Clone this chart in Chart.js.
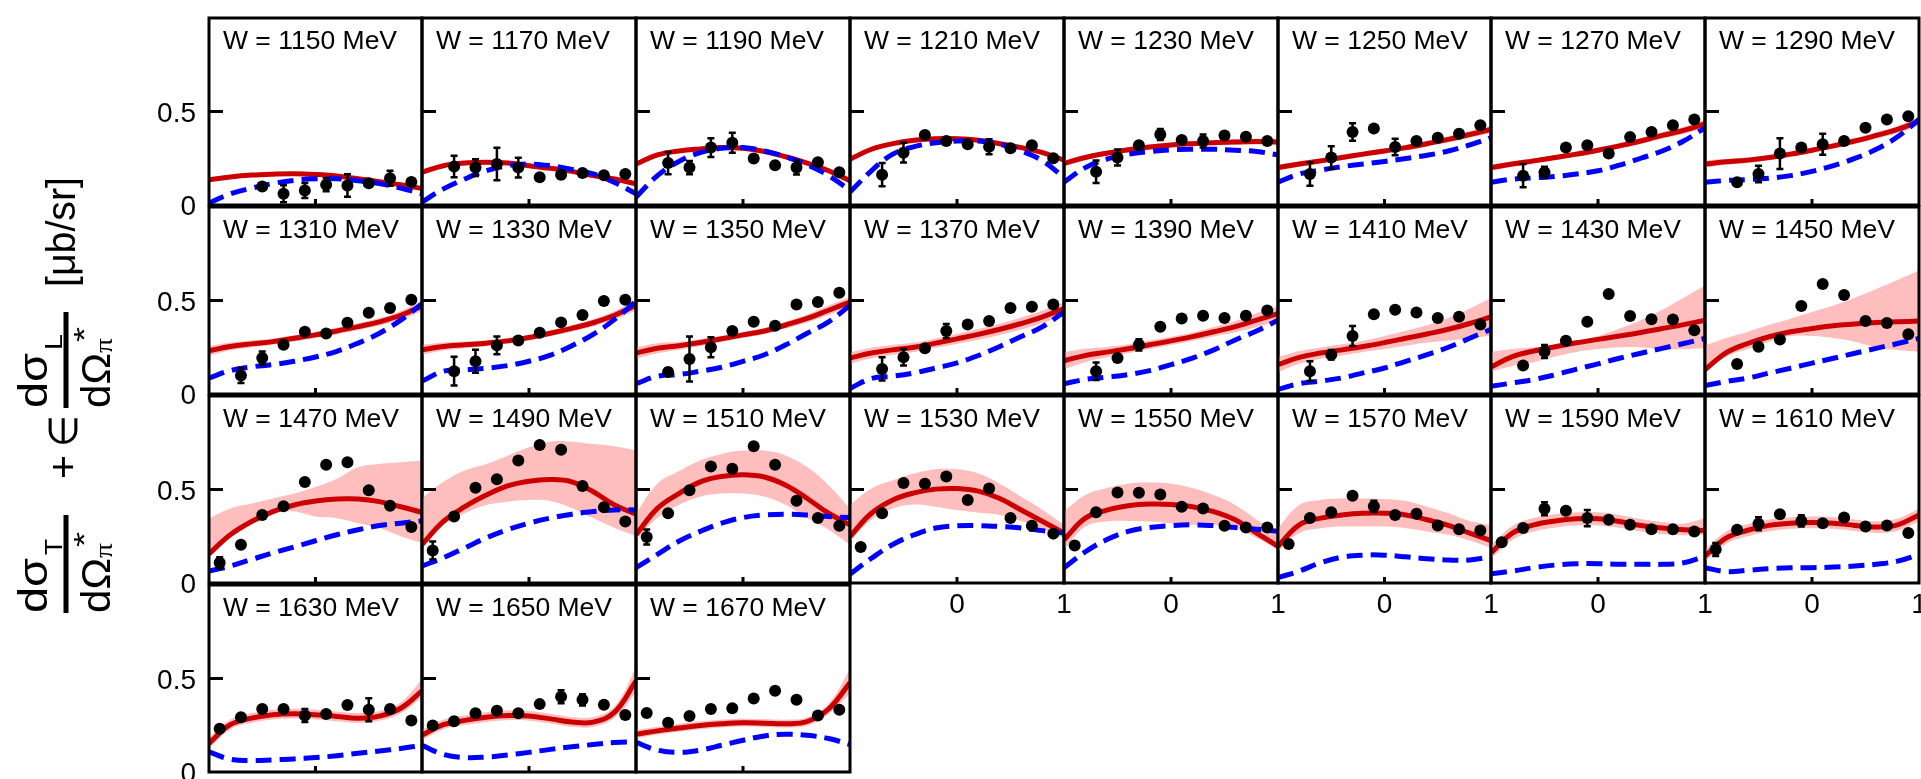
<!DOCTYPE html>
<html>
<head>
<meta charset="utf-8">
<title>Pion electroproduction cross sections</title>
<script src="https://cdn.jsdelivr.net/npm/chart.js@4.4.1/dist/chart.umd.min.js"></script>
<style>
    html, body { margin: 0; padding: 0; overflow: hidden; background: #fff; }
    body { position: relative; width: 1921px; height: 779px; }
    canvas { position: absolute; }
</style>
</head>
<body>
<script>
// one panel per W bin, filled row by row, 8 per row
const energies = [1150, 1170, 1190, 1210, 1230, 1250, 1270, 1290,
                  1310, 1330, 1350, 1370, 1390, 1410, 1430, 1450,
                  1470, 1490, 1510, 1530, 1550, 1570, 1590, 1610,
                  1630, 1650, 1670];

// cos(theta*) of the measured points and of the model curves
const cosTheta = [-0.9, -0.7, -0.5, -0.3, -0.1, 0.1, 0.3, 0.5, 0.7, 0.9];
const curveCos = [-1, -0.8, -0.6, -0.4, -0.2, 0, 0.2, 0.4, 0.6, 0.8, 1];

const xTicks = [0, 1];
const yTicks = [0, 0.5];

// measured cross sections [μb/sr], null = no point
const measured = [
    [null, null, 0.099, 0.06, 0.078, 0.108, 0.104, 0.116, 0.143, 0.123],
    [null, 0.206, 0.20, 0.219, 0.20, 0.148, 0.162, 0.171, 0.159, 0.166],
    [null, 0.224, 0.20, 0.307, 0.333, 0.249, 0.213, 0.20, 0.228, 0.175],
    [null, 0.162, 0.28, 0.374, 0.342, 0.325, 0.312, 0.303, 0.319, 0.25],
    [null, 0.178, 0.254, 0.319, 0.377, 0.347, 0.342, 0.372, 0.365, 0.342],
    [null, 0.166, 0.254, 0.39, 0.409, 0.31, 0.342, 0.36, 0.381, 0.427],
    [null, 0.157, 0.175, 0.307, 0.319, 0.275, 0.363, 0.39, 0.427, 0.457],
    [null, 0.122, 0.166, 0.275, 0.307, 0.325, 0.342, 0.413, 0.457, 0.474],
    [null, 0.099, 0.192, 0.263, 0.333, 0.324, 0.381, 0.434, 0.46, 0.504],
    [null, 0.122, 0.175, 0.26, 0.286, 0.328, 0.383, 0.422, 0.497, 0.504],
    [null, 0.118, 0.187, 0.25, 0.337, 0.386, 0.365, 0.478, 0.492, 0.541],
    [null, 0.134, 0.196, 0.245, 0.337, 0.372, 0.39, 0.46, 0.466, 0.478],
    [null, 0.122, 0.192, 0.263, 0.36, 0.404, 0.418, 0.407, 0.418, 0.446],
    [null, 0.122, 0.21, 0.31, 0.427, 0.451, 0.436, 0.407, 0.413, 0.372],
    [null, 0.153, 0.227, 0.285, 0.386, 0.535, 0.417, 0.40, 0.398, 0.341],
    [null, 0.161, 0.253, 0.292, 0.47, 0.588, 0.53, 0.39, 0.38, 0.32],
    [0.108, 0.205, 0.364, 0.411, 0.54, 0.632, 0.646, 0.496, 0.413, 0.30],
    [0.174, 0.355, 0.509, 0.555, 0.655, 0.738, 0.713, 0.519, 0.405, 0.329],
    [0.246, 0.373, 0.496, 0.623, 0.611, 0.731, 0.632, 0.44, 0.347, 0.306],
    [0.193, 0.373, 0.535, 0.531, 0.57, 0.444, 0.505, 0.347, 0.306, 0.264],
    [0.20, 0.378, 0.484, 0.482, 0.473, 0.408, 0.399, 0.306, 0.297, 0.297],
    [0.209, 0.347, 0.378, 0.467, 0.41, 0.364, 0.37, 0.308, 0.288, 0.281],
    [0.218, 0.294, 0.397, 0.386, 0.347, 0.338, 0.311, 0.288, 0.288, 0.276],
    [0.179, 0.285, 0.317, 0.368, 0.332, 0.32, 0.35, 0.302, 0.308, 0.267],
    [0.231, 0.293, 0.337, 0.337, 0.302, 0.31, 0.358, 0.333, 0.337, 0.275],
    [0.249, 0.272, 0.314, 0.328, 0.314, 0.363, 0.402, 0.386, 0.36, 0.305],
    [0.316, 0.263, 0.299, 0.337, 0.341, 0.393, 0.434, 0.386, 0.302, 0.333],
];

const measuredErr = [
    [null, null, 0.015, 0.045, 0.04, 0.035, 0.06, 0.012, 0.04, 0.012],
    [null, 0.057, 0.045, 0.087, 0.053, 0.015, 0.02, 0.012, 0.012, 0.012],
    [null, 0.06, 0.035, 0.05, 0.053, 0.015, 0.012, 0.037, 0.012, 0.012],
    [null, 0.062, 0.053, 0.015, 0.012, 0.012, 0.04, 0.012, 0.012, 0.012],
    [null, 0.06, 0.043, 0.015, 0.03, 0.012, 0.035, 0.012, 0.012, 0.012],
    [null, 0.063, 0.06, 0.047, 0.012, 0.044, 0.012, 0.012, 0.012, 0.012],
    [null, 0.062, 0.03, 0.012, 0.012, 0.012, 0.012, 0.012, 0.012, 0.012],
    [null, 0.012, 0.044, 0.082, 0.012, 0.056, 0.012, 0.012, 0.012, 0.012],
    [null, 0.04, 0.035, 0.012, 0.012, 0.012, 0.012, 0.012, 0.012, 0.012],
    [null, 0.077, 0.062, 0.047, 0.012, 0.012, 0.012, 0.012, 0.012, 0.012],
    [null, 0.02, 0.12, 0.053, 0.012, 0.012, 0.012, 0.012, 0.012, 0.012],
    [null, 0.062, 0.044, 0.015, 0.037, 0.012, 0.012, 0.012, 0.012, 0.012],
    [null, 0.047, 0.012, 0.03, 0.012, 0.012, 0.012, 0.012, 0.012, 0.012],
    [null, 0.053, 0.025, 0.053, 0.012, 0.012, 0.012, 0.012, 0.012, 0.012],
    [null, 0.012, 0.035, 0.012, 0.012, 0.012, 0.012, 0.012, 0.012, 0.012],
    [null, 0.012, 0.012, 0.012, 0.012, 0.012, 0.012, 0.012, 0.012, 0.012],
    [0.03, 0.012, 0.012, 0.012, 0.012, 0.012, 0.012, 0.012, 0.012, 0.012],
    [0.048, 0.012, 0.012, 0.012, 0.012, 0.012, 0.012, 0.012, 0.012, 0.012],
    [0.04, 0.012, 0.012, 0.012, 0.012, 0.012, 0.012, 0.012, 0.012, 0.012],
    [0.012, 0.012, 0.012, 0.012, 0.012, 0.012, 0.012, 0.012, 0.012, 0.012],
    [0.012, 0.012, 0.012, 0.012, 0.012, 0.012, 0.012, 0.012, 0.012, 0.012],
    [0.012, 0.012, 0.012, 0.012, 0.03, 0.012, 0.012, 0.012, 0.012, 0.012],
    [0.012, 0.012, 0.035, 0.012, 0.044, 0.012, 0.012, 0.012, 0.012, 0.012],
    [0.035, 0.012, 0.035, 0.012, 0.03, 0.012, 0.012, 0.012, 0.012, 0.012],
    [0.012, 0.012, 0.012, 0.012, 0.035, 0.012, 0.012, 0.062, 0.012, 0.012],
    [0.012, 0.012, 0.012, 0.012, 0.012, 0.012, 0.035, 0.03, 0.012, 0.012],
    [0.012, 0.012, 0.012, 0.012, 0.012, 0.012, 0.012, 0.012, 0.012, 0.012],
];

// full model (solid red) with its uncertainty band
const fitCurve = [
    [0.135, 0.15, 0.16, 0.165, 0.167, 0.163, 0.155, 0.14, 0.125, 0.108, 0.088],
    [0.175, 0.21, 0.224, 0.228, 0.224, 0.21, 0.196, 0.18, 0.157, 0.139, 0.113],
    [0.219, 0.268, 0.289, 0.30, 0.307, 0.303, 0.286, 0.258, 0.224, 0.183, 0.13],
    [0.245, 0.298, 0.328, 0.346, 0.354, 0.354, 0.346, 0.328, 0.307, 0.28, 0.24],
    [0.222, 0.254, 0.277, 0.295, 0.31, 0.321, 0.328, 0.333, 0.337, 0.339, 0.337],
    [0.201, 0.219, 0.236, 0.254, 0.272, 0.289, 0.307, 0.328, 0.351, 0.377, 0.404],
    [0.20, 0.219, 0.236, 0.254, 0.272, 0.293, 0.316, 0.342, 0.372, 0.399, 0.434],
    [0.219, 0.231, 0.24, 0.254, 0.272, 0.293, 0.316, 0.342, 0.372, 0.404, 0.448],
    [0.231, 0.254, 0.268, 0.28, 0.298, 0.316, 0.337, 0.36, 0.386, 0.421, 0.471],
    [0.236, 0.254, 0.263, 0.272, 0.284, 0.302, 0.325, 0.351, 0.381, 0.421, 0.474],
    [0.219, 0.245, 0.258, 0.275, 0.295, 0.316, 0.337, 0.369, 0.404, 0.448, 0.492],
    [0.192, 0.219, 0.236, 0.25, 0.272, 0.295, 0.319, 0.346, 0.377, 0.413, 0.457],
    [0.178, 0.206, 0.224, 0.242, 0.263, 0.284, 0.307, 0.333, 0.36, 0.395, 0.43],
    [0.157, 0.196, 0.219, 0.236, 0.254, 0.275, 0.298, 0.321, 0.346, 0.377, 0.413],
    [0.144, 0.20, 0.23, 0.253, 0.274, 0.292, 0.31, 0.329, 0.35, 0.371, 0.394],
    [0.13, 0.221, 0.27, 0.306, 0.333, 0.35, 0.365, 0.374, 0.382, 0.386, 0.39],
    [0.156, 0.258, 0.329, 0.382, 0.417, 0.438, 0.449, 0.449, 0.435, 0.408, 0.378],
    [0.205, 0.329, 0.408, 0.47, 0.519, 0.544, 0.553, 0.541, 0.488, 0.417, 0.368],
    [0.258, 0.399, 0.478, 0.541, 0.57, 0.579, 0.567, 0.523, 0.452, 0.373, 0.311],
    [0.249, 0.373, 0.444, 0.482, 0.502, 0.505, 0.491, 0.452, 0.39, 0.329, 0.267],
    [0.232, 0.347, 0.39, 0.413, 0.422, 0.42, 0.408, 0.382, 0.338, 0.267, 0.196],
    [0.197, 0.311, 0.347, 0.364, 0.373, 0.373, 0.364, 0.338, 0.308, 0.267, 0.227],
    [0.161, 0.267, 0.311, 0.332, 0.343, 0.343, 0.329, 0.308, 0.294, 0.285, 0.281],
    [0.144, 0.241, 0.282, 0.308, 0.32, 0.323, 0.32, 0.308, 0.299, 0.311, 0.364],
    [0.153, 0.253, 0.288, 0.306, 0.311, 0.306, 0.297, 0.288, 0.299, 0.341, 0.434],
    [0.197, 0.253, 0.276, 0.293, 0.302, 0.299, 0.284, 0.267, 0.267, 0.32, 0.487],
    [0.202, 0.22, 0.235, 0.249, 0.258, 0.263, 0.261, 0.258, 0.27, 0.337, 0.478],
];

const fitLow = [
    [0.125, 0.14, 0.15, 0.155, 0.157, 0.153, 0.145, 0.13, 0.115, 0.098, 0.078],
    [0.163, 0.198, 0.212, 0.216, 0.212, 0.198, 0.184, 0.168, 0.145, 0.127, 0.10],
    [0.205, 0.255, 0.277, 0.288, 0.295, 0.291, 0.274, 0.246, 0.212, 0.17, 0.115],
    [0.232, 0.286, 0.316, 0.334, 0.342, 0.342, 0.334, 0.316, 0.295, 0.267, 0.225],
    [0.205, 0.24, 0.264, 0.282, 0.297, 0.308, 0.315, 0.32, 0.323, 0.324, 0.32],
    [0.185, 0.205, 0.222, 0.24, 0.258, 0.275, 0.293, 0.313, 0.335, 0.36, 0.385],
    [0.183, 0.204, 0.222, 0.24, 0.258, 0.279, 0.301, 0.326, 0.355, 0.381, 0.412],
    [0.20, 0.215, 0.225, 0.24, 0.258, 0.279, 0.301, 0.326, 0.355, 0.385, 0.425],
    [0.205, 0.232, 0.25, 0.263, 0.282, 0.30, 0.32, 0.342, 0.366, 0.398, 0.443],
    [0.21, 0.233, 0.245, 0.256, 0.269, 0.287, 0.309, 0.334, 0.362, 0.398, 0.446],
    [0.188, 0.218, 0.237, 0.257, 0.279, 0.30, 0.321, 0.351, 0.383, 0.423, 0.465],
    [0.162, 0.191, 0.21, 0.225, 0.247, 0.268, 0.29, 0.316, 0.345, 0.38, 0.424],
    [0.133, 0.17, 0.196, 0.218, 0.24, 0.262, 0.285, 0.308, 0.33, 0.358, 0.39],
    [0.117, 0.162, 0.189, 0.206, 0.224, 0.24, 0.258, 0.275, 0.286, 0.297, 0.313],
    [0.12, 0.15, 0.17, 0.20, 0.225, 0.24, 0.25, 0.25, 0.24, 0.24, 0.245],
    [0.12, 0.20, 0.24, 0.28, 0.31, 0.31, 0.30, 0.28, 0.25, 0.235, 0.225],
    [0.152, 0.25, 0.32, 0.373, 0.382, 0.355, 0.346, 0.32, 0.294, 0.25, 0.214],
    [0.19, 0.311, 0.373, 0.417, 0.435, 0.444, 0.438, 0.40, 0.347, 0.294, 0.25],
    [0.232, 0.347, 0.417, 0.461, 0.478, 0.478, 0.461, 0.417, 0.347, 0.285, 0.205],
    [0.223, 0.338, 0.399, 0.42, 0.408, 0.39, 0.376, 0.364, 0.332, 0.288, 0.241],
    [0.179, 0.302, 0.329, 0.332, 0.329, 0.32, 0.311, 0.311, 0.294, 0.241, 0.179],
    [0.17, 0.267, 0.293, 0.302, 0.302, 0.302, 0.293, 0.276, 0.258, 0.227, 0.188],
    [0.13, 0.23, 0.275, 0.297, 0.308, 0.308, 0.295, 0.275, 0.262, 0.255, 0.258],
    [0.115, 0.21, 0.25, 0.277, 0.29, 0.293, 0.29, 0.278, 0.268, 0.28, 0.33],
    [0.125, 0.228, 0.263, 0.281, 0.286, 0.281, 0.272, 0.263, 0.274, 0.313, 0.40],
    [0.17, 0.228, 0.251, 0.268, 0.277, 0.274, 0.259, 0.242, 0.242, 0.29, 0.425],
    [0.18, 0.20, 0.215, 0.229, 0.238, 0.243, 0.241, 0.238, 0.248, 0.31, 0.42],
];

const fitHigh = [
    [0.145, 0.16, 0.17, 0.175, 0.177, 0.173, 0.165, 0.15, 0.135, 0.118, 0.098],
    [0.187, 0.222, 0.236, 0.24, 0.236, 0.222, 0.208, 0.192, 0.169, 0.151, 0.126],
    [0.233, 0.281, 0.301, 0.312, 0.319, 0.315, 0.298, 0.27, 0.236, 0.196, 0.145],
    [0.258, 0.31, 0.34, 0.358, 0.366, 0.366, 0.358, 0.34, 0.319, 0.293, 0.255],
    [0.239, 0.268, 0.29, 0.308, 0.323, 0.334, 0.341, 0.346, 0.351, 0.354, 0.354],
    [0.217, 0.233, 0.25, 0.268, 0.286, 0.303, 0.321, 0.343, 0.367, 0.394, 0.423],
    [0.217, 0.234, 0.25, 0.268, 0.286, 0.307, 0.331, 0.358, 0.389, 0.417, 0.456],
    [0.238, 0.247, 0.255, 0.268, 0.286, 0.307, 0.331, 0.358, 0.389, 0.423, 0.471],
    [0.257, 0.276, 0.286, 0.297, 0.314, 0.332, 0.354, 0.378, 0.406, 0.444, 0.499],
    [0.262, 0.275, 0.281, 0.288, 0.299, 0.317, 0.341, 0.368, 0.40, 0.444, 0.502],
    [0.25, 0.272, 0.279, 0.293, 0.311, 0.332, 0.353, 0.387, 0.425, 0.473, 0.519],
    [0.222, 0.247, 0.262, 0.275, 0.297, 0.322, 0.348, 0.376, 0.409, 0.446, 0.49],
    [0.223, 0.242, 0.252, 0.266, 0.286, 0.306, 0.329, 0.358, 0.39, 0.432, 0.47],
    [0.197, 0.23, 0.249, 0.266, 0.284, 0.31, 0.338, 0.367, 0.406, 0.457, 0.513],
    [0.225, 0.24, 0.25, 0.265, 0.285, 0.31, 0.35, 0.395, 0.45, 0.515, 0.58],
    [0.26, 0.30, 0.333, 0.37, 0.403, 0.438, 0.473, 0.515, 0.562, 0.61, 0.66],
    [0.346, 0.399, 0.425, 0.452, 0.478, 0.513, 0.557, 0.619, 0.637, 0.646, 0.655],
    [0.452, 0.541, 0.602, 0.637, 0.681, 0.726, 0.756, 0.756, 0.743, 0.731, 0.708],
    [0.373, 0.531, 0.597, 0.655, 0.69, 0.708, 0.708, 0.681, 0.62, 0.523, 0.399],
    [0.417, 0.505, 0.549, 0.585, 0.608, 0.608, 0.585, 0.531, 0.461, 0.39, 0.311],
    [0.382, 0.47, 0.508, 0.531, 0.537, 0.531, 0.508, 0.47, 0.417, 0.338, 0.258],
    [0.293, 0.417, 0.444, 0.452, 0.452, 0.449, 0.438, 0.408, 0.373, 0.332, 0.311],
    [0.20, 0.305, 0.348, 0.368, 0.378, 0.378, 0.364, 0.342, 0.326, 0.318, 0.347],
    [0.18, 0.275, 0.315, 0.34, 0.352, 0.355, 0.352, 0.34, 0.33, 0.345, 0.399],
    [0.185, 0.28, 0.315, 0.333, 0.338, 0.333, 0.324, 0.315, 0.326, 0.372, 0.496],
    [0.227, 0.28, 0.303, 0.32, 0.329, 0.326, 0.311, 0.294, 0.294, 0.352, 0.558],
    [0.225, 0.242, 0.257, 0.271, 0.28, 0.285, 0.283, 0.28, 0.293, 0.365, 0.549],
];

// second model (blue dashed)
const dashedCurve = [
    [0.01, 0.06, 0.09, 0.115, 0.132, 0.14, 0.14, 0.13, 0.115, 0.09, 0.06],
    [0.016, 0.086, 0.139, 0.183, 0.21, 0.219, 0.21, 0.19, 0.166, 0.12, 0.06],
    [0.042, 0.157, 0.233, 0.28, 0.303, 0.307, 0.289, 0.258, 0.215, 0.157, 0.078],
    [0.069, 0.183, 0.272, 0.312, 0.333, 0.342, 0.342, 0.325, 0.289, 0.236, 0.148],
    [0.122, 0.20, 0.245, 0.272, 0.286, 0.295, 0.298, 0.298, 0.293, 0.286, 0.268],
    [0.122, 0.166, 0.187, 0.205, 0.219, 0.233, 0.249, 0.266, 0.289, 0.321, 0.36],
    [0.122, 0.138, 0.145, 0.153, 0.166, 0.183, 0.213, 0.25, 0.289, 0.342, 0.413],
    [0.122, 0.131, 0.136, 0.143, 0.157, 0.18, 0.21, 0.249, 0.298, 0.365, 0.457],
    [0.086, 0.125, 0.145, 0.157, 0.175, 0.198, 0.228, 0.272, 0.325, 0.395, 0.483],
    [0.069, 0.122, 0.129, 0.138, 0.152, 0.175, 0.208, 0.258, 0.319, 0.399, 0.496],
    [0.055, 0.095, 0.104, 0.122, 0.143, 0.175, 0.21, 0.263, 0.325, 0.386, 0.474],
    [0.03, 0.083, 0.095, 0.113, 0.139, 0.166, 0.206, 0.254, 0.307, 0.36, 0.439],
    [0.055, 0.078, 0.09, 0.104, 0.125, 0.157, 0.192, 0.236, 0.289, 0.337, 0.395],
    [0.025, 0.055, 0.069, 0.086, 0.113, 0.139, 0.175, 0.21, 0.25, 0.298, 0.346],
    [0.041, 0.059, 0.077, 0.103, 0.133, 0.161, 0.191, 0.218, 0.244, 0.27, 0.297],
    [0.045, 0.067, 0.085, 0.112, 0.138, 0.165, 0.191, 0.218, 0.244, 0.27, 0.297],
    [0.064, 0.091, 0.126, 0.161, 0.193, 0.226, 0.258, 0.285, 0.307, 0.32, 0.332],
    [0.091, 0.135, 0.188, 0.241, 0.285, 0.32, 0.347, 0.368, 0.382, 0.391, 0.391],
    [0.082, 0.153, 0.223, 0.276, 0.32, 0.35, 0.364, 0.368, 0.364, 0.355, 0.35],
    [0.047, 0.132, 0.206, 0.258, 0.294, 0.306, 0.307, 0.302, 0.294, 0.28, 0.267],
    [0.082, 0.167, 0.232, 0.276, 0.297, 0.307, 0.311, 0.307, 0.297, 0.288, 0.276],
    [0.029, 0.064, 0.108, 0.138, 0.149, 0.149, 0.14, 0.13, 0.123, 0.123, 0.14],
    [0.05, 0.064, 0.082, 0.096, 0.103, 0.103, 0.10, 0.10, 0.10, 0.108, 0.144],
    [0.082, 0.061, 0.068, 0.077, 0.082, 0.082, 0.085, 0.091, 0.10, 0.117, 0.153],
    [0.108, 0.068, 0.061, 0.065, 0.07, 0.077, 0.087, 0.10, 0.112, 0.126, 0.143],
    [0.143, 0.094, 0.077, 0.08, 0.091, 0.105, 0.121, 0.135, 0.147, 0.158, 0.161],
    [0.158, 0.117, 0.105, 0.117, 0.143, 0.17, 0.193, 0.202, 0.196, 0.179, 0.147],
];

// panel grid (page pixels)
const COLS = 8;
const colEdges = [209, 422, 636, 850, 1064, 1278, 1491, 1705, 1919];
const rowEdges = [16, 205, 394, 583, 772];
const PAD = { left: 70, right: 12, top: 4, bottom: 45 };

const FONT = '"Liberation Sans", Arial, Helvetica, sans-serif';
const SERIF = '"Liberation Serif", "Times New Roman", serif';

function curve(xs, ys) {
    return xs.map((x, j) => ({ x: x, y: ys[j] }));
}

// y axis title, written bottom to top on its own canvas
function drawAxisTitle() {
    const canvas = document.createElement("canvas");
    canvas.width = 130;
    canvas.height = 480;
    canvas.style.left = "0px";
    canvas.style.top = "150px";
    document.body.appendChild(canvas);
    const ctx = canvas.getContext("2d");
    // u runs up the page from y = 620, v runs to the right from x = 0
    ctx.translate(0, 470);
    ctx.rotate(-Math.PI / 2);
    ctx.fillStyle = "#000";
    ctx.textBaseline = "alphabetic";

    function piece(text, u, v, size, width, family) {
        ctx.save();
        ctx.font = size + "px " + (family || FONT);
        ctx.translate(u, v);
        if (width) ctx.scale(width / ctx.measureText(text).width, 1);
        ctx.fillText(text, 0, 0);
        ctx.restore();
    }
    function fraction(u, sub, len) {
        piece("dσ", u, 47, 40, 55);
        piece(sub, u + 58, 62, 24, 16);
        ctx.fillRect(u, 63.5, len, 5);
        piece("dΩ", u, 110, 40, 55);
        piece("π", u + 55, 112, 26, 15, SERIF);
        piece("*", u + 66, 94, 30, 15);
    }

    fraction(7, "T", 98);
    piece("+", 141, 77, 40, 24);
    piece("∈", 173, 77, 40, 32);
    fraction(212, "L", 96);
    piece("[μb/sr]", 333, 75, 40, 110);
}

// frame, inward ticks, tick labels, error bars and the W label of each panel
const panelDecor = {
    id: "panelDecor",
    afterDatasetsDraw(chart, args, opts) {
        const i = opts.index;
        const xs = chart.scales.x;
        const ys = chart.scales.y;
        const ctx = chart.ctx;
        ctx.save();
        ctx.strokeStyle = "#000";
        ctx.lineWidth = 2.5;
        cosTheta.forEach((c, j) => {
            const v = measured[i][j];
            if (v === null) return;
            const e = measuredErr[i][j];
            const px = xs.getPixelForValue(c);
            const lo = ys.getPixelForValue(v - e);
            const hi = ys.getPixelForValue(v + e);
            ctx.beginPath();
            ctx.moveTo(px, lo);
            ctx.lineTo(px, hi);
            ctx.moveTo(px - 3.5, lo);
            ctx.lineTo(px + 3.5, lo);
            ctx.moveTo(px - 3.5, hi);
            ctx.lineTo(px + 3.5, hi);
            ctx.stroke();
        });
        ctx.restore();
    },
    afterDraw(chart, args, opts) {
        const a = chart.chartArea;
        const ctx = chart.ctx;
        const xs = chart.scales.x;
        const ys = chart.scales.y;
        const y5 = ys.getPixelForValue(0.5);
        const x0 = xs.getPixelForValue(0);
        ctx.save();
        ctx.strokeStyle = "#000";
        ctx.lineWidth = 3;
        ctx.strokeRect(a.left, a.top, a.right - a.left, a.bottom - a.top);
        ctx.beginPath();
        ctx.moveTo(a.left, y5);
        ctx.lineTo(a.left + 14, y5);
        ctx.moveTo(x0, a.bottom);
        ctx.lineTo(x0, a.bottom - 6);
        ctx.stroke();

        ctx.fillStyle = "#000";
        ctx.textBaseline = "alphabetic";
        ctx.font = "26.5px " + FONT;
        ctx.textAlign = "left";
        ctx.fillText("W = " + energies[opts.index] + " MeV", a.left + 14, a.top + 31);

        ctx.font = "28px " + FONT;
        if (opts.showY) {
            ctx.textAlign = "right";
            yTicks.forEach((v) => ctx.fillText(String(v), a.left - 13, ys.getPixelForValue(v) + 10));
        }
        if (opts.showX) {
            ctx.textAlign = "center";
            xTicks.forEach((v) => ctx.fillText(String(v), xs.getPixelForValue(v), a.bottom + 30));
        }
        ctx.restore();
    },
};

drawAxisTitle();

energies.forEach((w, i) => {
    const row = Math.floor(i / COLS);
    const col = i % COLS;
    const left = colEdges[col];
    const top = rowEdges[row];
    const width = colEdges[col + 1] - left;
    const height = rowEdges[row + 1] - top;

    const canvas = document.createElement("canvas");
    canvas.width = width + PAD.left + PAD.right;
    canvas.height = height + PAD.top + PAD.bottom;
    canvas.style.left = (left - PAD.left) + "px";
    canvas.style.top = (top - PAD.top) + "px";
    document.body.appendChild(canvas);

    const points = [];
    cosTheta.forEach((c, j) => {
        if (measured[i][j] !== null) points.push({ x: c, y: measured[i][j] });
    });

    new Chart(canvas, {
        type: "line",
        data: {
            datasets: [
                {
                    data: curve(curveCos, fitLow[i]),
                    borderWidth: 0,
                    borderColor: "rgba(0,0,0,0)",
                    pointRadius: 0,
                    fill: false,
                    tension: 0.4,
                    order: 3,
                },
                {
                    data: curve(curveCos, fitHigh[i]),
                    borderWidth: 0,
                    borderColor: "rgba(0,0,0,0)",
                    backgroundColor: "#ffbebe",
                    pointRadius: 0,
                    fill: "-1",
                    tension: 0.4,
                    order: 3,
                },
                {
                    data: curve(curveCos, fitCurve[i]),
                    borderColor: "#cc0000",
                    borderWidth: 5,
                    pointRadius: 0,
                    fill: false,
                    tension: 0.4,
                    order: 2,
                },
                {
                    data: curve(curveCos, dashedCurve[i]),
                    borderColor: "#0000ff",
                    borderWidth: 5,
                    borderDash: [16, 8],
                    pointRadius: 0,
                    fill: false,
                    tension: 0.4,
                    order: 1,
                },
                {
                    data: points,
                    showLine: false,
                    pointRadius: 6,
                    pointBorderWidth: 0,
                    pointBackgroundColor: "#000",
                    order: 0,
                },
            ],
        },
        options: {
            responsive: false,
            animation: false,
            devicePixelRatio: 1,
            events: [],
            layout: { padding: PAD },
            plugins: {
                legend: { display: false },
                tooltip: { enabled: false },
                panelDecor: { index: i, showY: col === 0, showX: row === 2 && col >= 3 },
            },
            scales: {
                x: { type: "linear", display: false, min: -1, max: 1 },
                y: { type: "linear", display: false, min: 0, max: 1 },
            },
        },
        plugins: [panelDecor],
    });
});
</script>
</body>
</html>
